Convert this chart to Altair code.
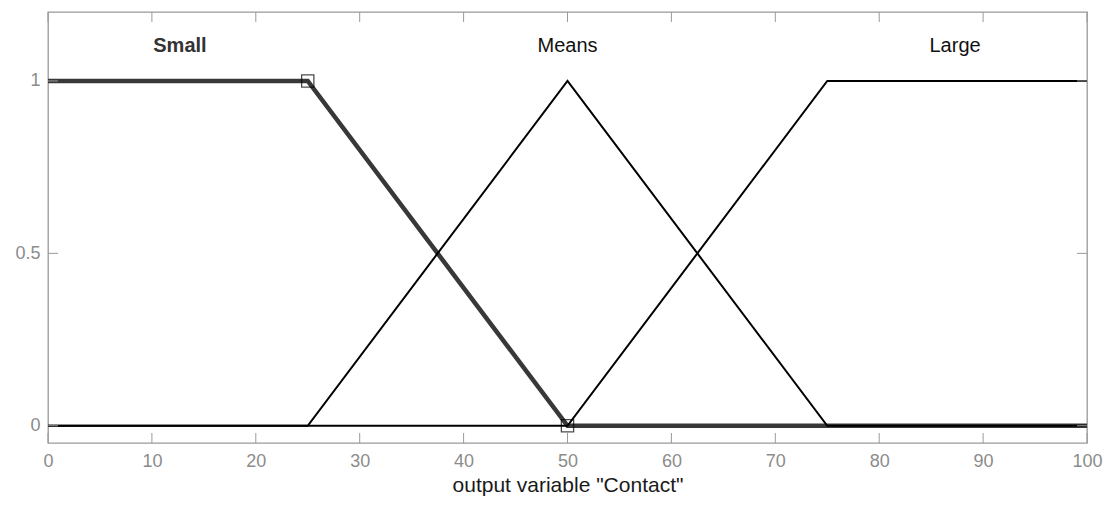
import altair as alt
import pandas as pd

# Membership functions (x, membership)
small_x = [0, 25, 50, 100]
small_y = [1, 1, 0, 0]
means_x = [0, 25, 50, 75, 100]
means_y = [0, 0, 1, 0, 0]
large_x = [0, 50, 75, 100]
large_y = [0, 0, 1, 1]

label_names = ["Small", "Means", "Large"]
label_x = [12.7, 50, 87.3]
label_y = [1.1, 1.1, 1.1]

marker_x = [25, 50]
marker_y = [1, 0]

x_ticks = [0, 10, 20, 30, 40, 50, 60, 70, 80, 90, 100]
y_ticks = [0, 0.5, 1]

W, H = 1039, 431

small_df = pd.DataFrame({"x": small_x, "y": small_y, "o": range(len(small_x))})
means_df = pd.DataFrame({"x": means_x, "y": means_y, "o": range(len(means_x))})
large_df = pd.DataFrame({"x": large_x, "y": large_y, "o": range(len(large_x))})
lab_df = pd.DataFrame({"name": label_names, "x": label_x, "y": label_y})
mk_df = pd.DataFrame({"x": marker_x, "y": marker_y})
xt_df = pd.DataFrame({"v": x_ticks})
yt_df = pd.DataFrame({"v": y_ticks})

xs = alt.Scale(domain=[0, 100], nice=False, zero=False)
ys = alt.Scale(domain=[-0.05, 1.2], nice=False, zero=False)

xenc = alt.X("x:Q", scale=xs, axis=alt.Axis(
    values=x_ticks, title='output variable "Contact"', grid=False, ticks=False, domain=False,
    labelPadding=9, labelFontSize=18, labelColor="#8c8c8c", labelFont="Liberation Sans",
    titleFontSize=21, titleFont="Liberation Sans", titleFontWeight="normal", titleColor="#1a1a1a",
    titlePadding=4, labelFlush=False))
yenc = alt.Y("y:Q", scale=ys, axis=alt.Axis(
    values=y_ticks, title=None, grid=False, ticks=False, domain=False,
    labelPadding=8, labelFontSize=18, labelColor="#8c8c8c", labelFont="Liberation Sans",
    labelExpr="'' + datum.value", labelFlush=False))

small = alt.Chart(small_df).mark_line(color="#383838", strokeWidth=4.5).encode(
    x=xenc, y=yenc, order="o:Q")
means = alt.Chart(means_df).mark_line(color="#000000", strokeWidth=2).encode(
    x=alt.X("x:Q", scale=xs), y=alt.Y("y:Q", scale=ys), order="o:Q")
large = alt.Chart(large_df).mark_line(color="#000000", strokeWidth=2).encode(
    x=alt.X("x:Q", scale=xs), y=alt.Y("y:Q", scale=ys), order="o:Q")

markers = alt.Chart(mk_df).mark_point(shape="square", filled=False, color="#000000",
                                       size=150, strokeWidth=1.3).encode(
    x=alt.X("x:Q", scale=xs), y=alt.Y("y:Q", scale=ys))

labels_bold = alt.Chart(lab_df).transform_filter("datum.name == 'Small'").mark_text(
    font="Liberation Sans", fontSize=20, fontWeight="bold", color="#333333").encode(
    x=alt.X("x:Q", scale=xs), y=alt.Y("y:Q", scale=ys), text="name:N")
labels_norm = alt.Chart(lab_df).transform_filter("datum.name != 'Small'").mark_text(
    font="Liberation Sans", fontSize=20, color="#111111").encode(
    x=alt.X("x:Q", scale=xs), y=alt.Y("y:Q", scale=ys), text="name:N")

tick_color = "#9a9a9a"
xt_bot = alt.Chart(xt_df).mark_rule(color=tick_color, strokeWidth=1).encode(
    x=alt.X("v:Q", scale=xs), y=alt.value(H), y2=alt.value(H - 10))
xt_top = alt.Chart(xt_df).mark_rule(color=tick_color, strokeWidth=1).encode(
    x=alt.X("v:Q", scale=xs), y=alt.value(0), y2=alt.value(10))
yt_left = alt.Chart(yt_df).mark_rule(color=tick_color, strokeWidth=1).encode(
    y=alt.Y("v:Q", scale=ys), x=alt.value(0), x2=alt.value(10))
yt_right = alt.Chart(yt_df).mark_rule(color=tick_color, strokeWidth=1).encode(
    y=alt.Y("v:Q", scale=ys), x=alt.value(W), x2=alt.value(W - 10))

chart = alt.layer(small, means, large, markers, labels_bold, labels_norm,
                  xt_bot, xt_top, yt_left, yt_right).properties(
    width=W, height=H,
    background="white",
    autosize=alt.AutoSizeParams(type="none"),
    padding={"left": 40, "top": 4, "right": 16, "bottom": 55},
).configure_view(stroke="#999999", strokeWidth=1.3)

chart.save("out.html", embed_options={"renderer": "svg", "actions": False})
